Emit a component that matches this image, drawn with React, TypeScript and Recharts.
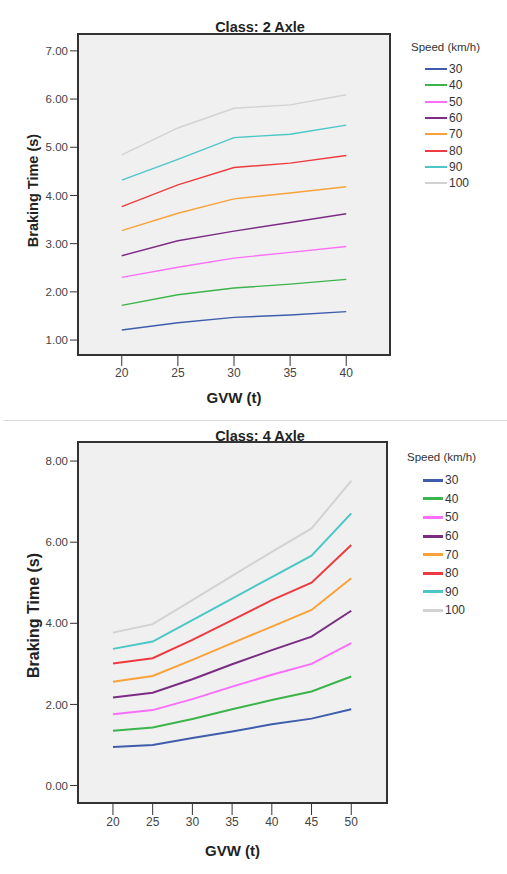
import React from "react";
import { LineChart, Line, XAxis, YAxis, CartesianGrid, ReferenceArea, Legend } from "recharts";

const speeds = [30, 40, 50, 60, 70, 80, 90, 100];
const speedColors = ["#3f5dab", "#3cb44b", "#fb6ffb", "#7b2d84", "#f9a23a", "#ee3b3f", "#4cc6c6", "#d2d2d2"];

// Class: 2 Axle
const gvw2 = [20, 25, 30, 35, 40];
const axle2_30 = [1.21, 1.36, 1.47, 1.52, 1.59];
const axle2_40 = [1.72, 1.94, 2.08, 2.16, 2.26];
const axle2_50 = [2.3, 2.51, 2.7, 2.82, 2.94];
const axle2_60 = [2.75, 3.06, 3.26, 3.44, 3.62];
const axle2_70 = [3.27, 3.63, 3.93, 4.05, 4.18];
const axle2_80 = [3.77, 4.22, 4.58, 4.67, 4.83];
const axle2_90 = [4.32, 4.75, 5.2, 5.27, 5.46];
const axle2_100 = [4.84, 5.4, 5.81, 5.88, 6.09];
const yTicks2 = [1, 2, 3, 4, 5, 6, 7];

// Class: 4 Axle
const gvw4 = [20, 25, 30, 35, 40, 45, 50];
const axle4_30 = [0.95, 1.0, 1.17, 1.33, 1.51, 1.65, 1.88];
const axle4_40 = [1.35, 1.43, 1.64, 1.88, 2.11, 2.32, 2.69];
const axle4_50 = [1.76, 1.86, 2.13, 2.44, 2.73, 3.0, 3.51];
const axle4_60 = [2.17, 2.29, 2.62, 2.99, 3.34, 3.67, 4.31];
const axle4_70 = [2.56, 2.7, 3.1, 3.51, 3.92, 4.33, 5.11];
const axle4_80 = [3.01, 3.14, 3.59, 4.08, 4.57, 5.0, 5.93];
const axle4_90 = [3.37, 3.55, 4.08, 4.61, 5.14, 5.67, 6.71];
const axle4_100 = [3.77, 3.98, 4.57, 5.17, 5.76, 6.34, 7.51];
const yTicks4 = [0, 2, 4, 6, 8];

const FONT = "'Liberation Sans', Arial, sans-serif";

function buildRows(gvw: number[], series: number[][]) {
  return gvw.map((g, i) => {
    const row: Record<string, number> = { gvw: g };
    speeds.forEach((s, k) => {
      row["s" + s] = series[k][i];
    });
    return row;
  });
}

const rows2 = buildRows(gvw2, [axle2_30, axle2_40, axle2_50, axle2_60, axle2_70, axle2_80, axle2_90, axle2_100]);
const rows4 = buildRows(gvw4, [axle4_30, axle4_40, axle4_50, axle4_60, axle4_70, axle4_80, axle4_90, axle4_100]);

function SpeedLegend({ spacing, lineW, lineLen, itemLeft }: { spacing: number; lineW: number; lineLen: number; itemLeft: number }) {
  return (
    <div style={{ fontFamily: FONT, color: "#333", width: 100 }}>
      <div style={{ fontSize: 11.5, lineHeight: "14px", marginLeft: 4 }}>Speed (km/h)</div>
      <div style={{ position: "relative", marginTop: 7, height: spacing * speeds.length }}>
        {speeds.map((s, i) => (
          <div
            key={s}
            style={{ position: "absolute", top: i * spacing, left: itemLeft, height: spacing, display: "flex", alignItems: "center", fontSize: 12 }}
          >
            <span style={{ display: "inline-block", width: lineLen, height: lineW, background: speedColors[i], marginRight: 2 }} />
            <span>{s}</span>
          </div>
        ))}
      </div>
    </div>
  );
}

function Panel({
  rows, gvw, yTicks, xDomain, yDomain, width, height, margin, lineW, title, titleTop, tickLen, xTitleOff, yTitleSize, yTitleShift, legend,
}: any) {
  return (
    <div style={{ position: "relative", width, height }}>
      <div style={{ position: "absolute", left: 0, width: 520, top: titleTop, textAlign: "center", fontFamily: FONT, fontWeight: "bold", fontSize: 14.5, color: "#222", zIndex: 2 }}>
        {title}
      </div>
      <LineChart width={width} height={height} data={rows} margin={margin}>
        <CartesianGrid fill="#f0f0f0" horizontal={false} vertical={false} />
        <XAxis
          dataKey="gvw"
          type="number"
          domain={xDomain}
          ticks={gvw}
          allowDataOverflow
          height={30}
          axisLine={false}
          tickSize={tickLen}
          tickMargin={2}
          tickLine={{ stroke: "#333" }}
          tick={{ fill: "#444", fontSize: 12, fontFamily: FONT }}
          label={{
            content: (p: any) => (
              <text x={p.viewBox.x + p.viewBox.width / 2} y={p.viewBox.y + xTitleOff} textAnchor="middle" fontFamily={FONT} fontWeight="bold" fontSize={15} fill="#222">
                GVW (t)
              </text>
            ),
          }}
        />
        <YAxis
          type="number"
          domain={yDomain}
          ticks={yTicks}
          allowDataOverflow
          width={78}
          axisLine={false}
          tickSize={8}
          tickMargin={2}
          tickLine={{ stroke: "#333" }}
          tickFormatter={(v: number) => v.toFixed(2)}
          tick={{ fill: "#444", fontSize: 11.5, fontFamily: FONT }}
          label={{
            content: (p: any) => {
              const cy = p.viewBox.y + p.viewBox.height / 2 + yTitleShift;
              return (
                <text x={33} y={cy} transform={`rotate(-90 33 ${cy})`} textAnchor="middle" dominantBaseline="central" fontFamily={FONT} fontWeight="bold" fontSize={yTitleSize} fill="#222">
                  Braking Time (s)
                </text>
              );
            },
          }}
        />
        {speeds.map((s, i) => (
          <Line key={s} dataKey={"s" + s} stroke={speedColors[i]} strokeWidth={lineW} dot={false} activeDot={false} isAnimationActive={false} />
        ))}
        <ReferenceArea x1={xDomain[0]} x2={xDomain[1]} y1={yDomain[0]} y2={yDomain[1]} fill="none" stroke="#333" strokeWidth={2} fillOpacity={0} />
        <Legend layout="vertical" align="center" verticalAlign="middle" wrapperStyle={legend.style} content={() => <SpeedLegend {...legend.props} />} />
      </LineChart>
    </div>
  );
}

export default function App() {
  return (
    <div style={{ position: "absolute", left: 0, top: 0, width: 507, height: 874, background: "#fff" }}>
      <Panel
        rows={rows2}
        gvw={gvw2}
        yTicks={yTicks2}
        xDomain={[16.1, 43.9]}
        yDomain={[0.69, 7.35]}
        width={507}
        height={410}
        margin={{ top: 34, right: 117, bottom: 25, left: 0 }}
        lineW={1.4}
        title="Class: 2 Axle"
        titleTop={19}
        tickLen={11}
        xTitleOff={48}
        yTitleSize={14.5}
        yTitleShift={-4}
        legend={{ style: { left: 407, top: 40, width: 100 }, props: { spacing: 16.3, lineW: 2, lineLen: 22, itemLeft: 18 } }}
      />
      <div style={{ position: "absolute", left: 3, right: 0, top: 420, height: 1, background: "#dcdcdc" }} />
      <div style={{ position: "absolute", left: 0, top: 410 }}>
        <Panel
          rows={rows4}
          gvw={gvw4}
          yTicks={yTicks4}
          xDomain={[15.6, 54.5]}
          yDomain={[-0.43, 8.47]}
          width={507}
          height={464}
          margin={{ top: 32, right: 120, bottom: 41, left: 0 }}
          lineW={2}
          title="Class: 4 Axle"
          titleTop={18}
          tickLen={12}
          xTitleOff={53}
          yTitleSize={16}
          yTitleShift={-7}
          legend={{ style: { left: 403, top: 40, width: 104 }, props: { spacing: 18.6, lineW: 3, lineLen: 20, itemLeft: 20 } }}
        />
      </div>
    </div>
  );
}
